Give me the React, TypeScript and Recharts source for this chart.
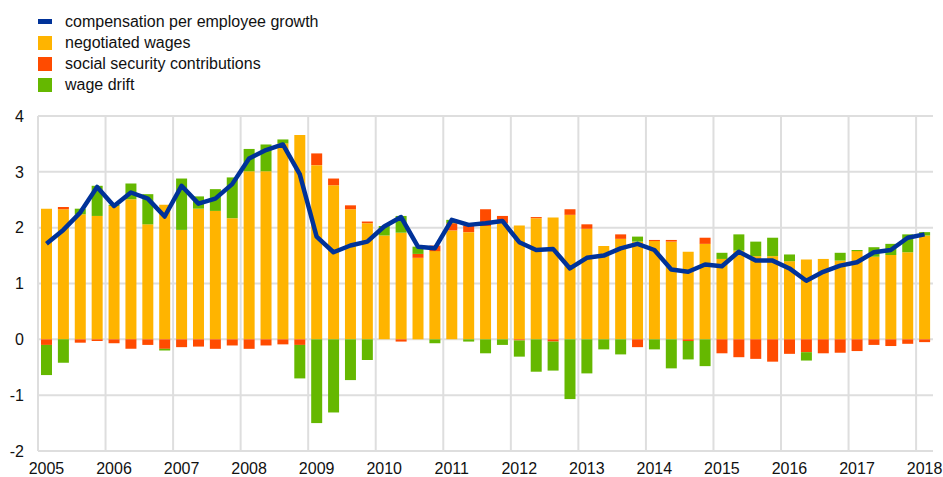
import { BarChart, Bar, Line, XAxis, YAxis, CartesianGrid, ReferenceLine, ComposedChart } from "recharts";

// quarterly, 2005 Q1 .. 2018 Q1
const FIRST_YEAR = 2005;

const negotiatedWages = [
  2.34, 2.33, 2.24, 2.21, 2.39, 2.51, 2.06, 2.41, 1.96, 2.34, 2.3, 2.17, 3.01, 3.01,
  3.51, 3.66, 3.12, 2.76, 2.33, 2.08, 1.86, 1.91, 1.46, 1.58, 1.95, 1.92, 2.03, 2.08,
  2.04, 2.17, 2.18, 2.23, 1.98, 1.67, 1.8, 1.75, 1.76, 1.75, 1.57, 1.71, 1.44, 1.59,
  1.49, 1.49, 1.4, 1.43, 1.44, 1.41, 1.58, 1.48, 1.51, 1.56, 1.86,
];

const socialContributions = [
  -0.1, 0.04, -0.06, -0.03, -0.07, -0.17, -0.1, -0.17, -0.14, -0.13, -0.17, -0.11, -0.17, -0.11,
  -0.09, -0.1, 0.21, 0.12, 0.07, 0.03, 0, -0.04, 0.07, 0.1, 0.13, 0.12, 0.3, 0.13,
  -0.02, 0.02, -0.04, 0.1, 0.08, 0, 0.08, -0.14, 0.02, 0.03, -0.03, 0.11, -0.25, -0.32,
  -0.35, -0.4, -0.26, -0.23, -0.25, -0.24, -0.21, -0.1, -0.12, -0.08, -0.05,
];

const wageDrift = [
  -0.54, -0.42, 0.1, 0.54, 0.02, 0.28, 0.54, -0.03, 0.92, 0.22, 0.39, 0.73, 0.4, 0.48,
  0.07, -0.6, -1.5, -1.31, -0.73, -0.37, 0.17, 0.3, 0.13, -0.07, 0.06, -0.04, -0.25, -0.1,
  -0.29, -0.58, -0.52, -1.07, -0.61, -0.18, -0.27, 0.09, -0.18, -0.52, -0.33, -0.48, 0.11, 0.29,
  0.26, 0.33, 0.12, -0.15, 0, 0.14, 0.02, 0.17, 0.2, 0.32, 0.06,
];

const compensationGrowth = [
  1.71, 1.96, 2.27, 2.73, 2.39, 2.63, 2.52, 2.2, 2.75, 2.43, 2.52, 2.78, 3.24, 3.39,
  3.49, 2.96, 1.84, 1.56, 1.68, 1.75, 2.02, 2.19, 1.66, 1.63, 2.14, 2.05, 2.08, 2.12,
  1.74, 1.6, 1.62, 1.27, 1.46, 1.5, 1.63, 1.71, 1.6, 1.25, 1.21, 1.34, 1.31, 1.57,
  1.41, 1.41, 1.27, 1.05, 1.21, 1.32, 1.38, 1.56, 1.6, 1.82, 1.88,
];

const yTicks = [-2, -1, 0, 1, 2, 3, 4];

const data = negotiatedWages.map((w, i) => ({
  idx: i,
  wages: w,
  social: socialContributions[i],
  drift: wageDrift[i],
  comp: compensationGrowth[i],
}));

const n = data.length;
const yearCount = Math.floor((n - 1) / 4) + 1;
const yearTicks = Array.from({ length: yearCount }, (_, k) => k * 4);
const yearBounds = yearTicks.map((t) => t - 0.5);

const BLUE = "#003299";
const YELLOW = "#FFB400";
const RED = "#FF4B00";
const GREEN = "#65B800";
const GRID = "#dedede";
const FONT = '"Liberation Sans", Arial, sans-serif';

const legendItems = [
  { label: "compensation per employee growth", color: BLUE, line: true },
  { label: "negotiated wages", color: YELLOW },
  { label: "social security contributions", color: RED },
  { label: "wage drift", color: GREEN },
];

const Legend = () => (
  <div style={{ position: "absolute", left: 38, top: 11, fontFamily: FONT, fontSize: 16, color: "#111" }}>
    {legendItems.map((it) => (
      <div key={it.label} style={{ display: "flex", alignItems: "center", height: 21 }}>
        <span
          style={{
            display: "inline-block",
            width: 14,
            height: it.line ? 5 : 14,
            background: it.color,
            marginRight: 13,
          }}
        />
        <span>{it.label}</span>
      </div>
    ))}
  </div>
);

export default function App() {
  return (
    <div style={{ position: "absolute", left: 0, top: 0, width: 943, height: 477, background: "#fff" }}>
      <Legend />
      <ComposedChart
        width={943}
        height={477}
        data={data}
        stackOffset="sign"
        margin={{ top: 116, right: 10, bottom: 0, left: 8 }}
      >
        <CartesianGrid vertical={false} stroke={GRID} strokeWidth={2} />
        {yearBounds.map((b) => (
          <ReferenceLine key={b} x={b} stroke={GRID} strokeWidth={2} />
        ))}
        <XAxis
          dataKey="idx"
          type="number"
          domain={[-0.5, n - 0.5]}
          ticks={yearTicks}
          tickFormatter={(v: number) => String(FIRST_YEAR + v / 4)}
          axisLine={false}
          tickLine={false}
          height={26}
          tickMargin={6}
          tick={{ fill: "#111", fontSize: 16, fontFamily: FONT }}
        />
        <YAxis
          domain={[-2, 4]}
          ticks={yTicks}
          width={30}
          axisLine={false}
          tickLine={false}
          tickMargin={8}
          tick={{ fill: "#111", fontSize: 16, fontFamily: FONT }}
        />
        <Bar dataKey="wages" stackId="a" fill={YELLOW} barSize={11} isAnimationActive={false} />
        <Bar dataKey="social" stackId="a" fill={RED} barSize={11} isAnimationActive={false} />
        <Bar dataKey="drift" stackId="a" fill={GREEN} barSize={11} isAnimationActive={false} />
        <Line
          dataKey="comp"
          type="linear"
          stroke={BLUE}
          strokeWidth={4.5}
          dot={false}
          strokeLinejoin="round"
          isAnimationActive={false}
        />
      </ComposedChart>
    </div>
  );
}
